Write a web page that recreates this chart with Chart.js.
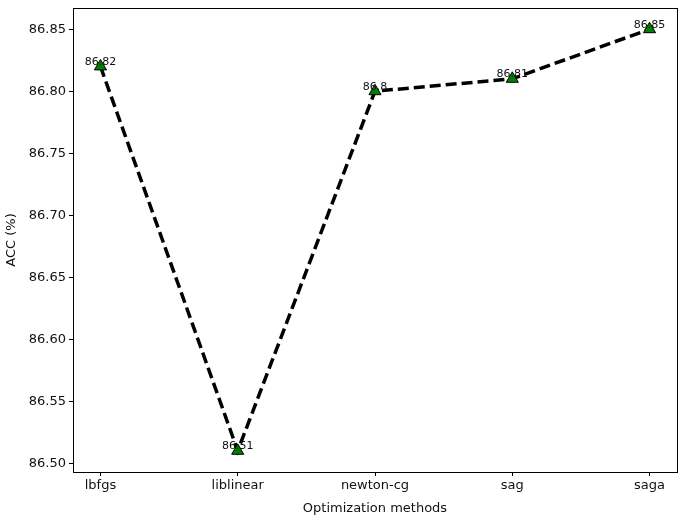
<!DOCTYPE html>
<html>
<head>
<meta charset="utf-8">
<script src="https://cdn.jsdelivr.net/npm/chart.js@4"></script>
<style>
  html, body { margin: 0; padding: 0; background: #fff; }
  #wrap { width: 685px; height: 520px; }
</style>
</head>
<body>
<div id="wrap"><canvas id="chart"></canvas></div>
<script>
// optimization methods on the x axis
let methods = ['lbfgs', 'liblinear', 'newton-cg', 'sag', 'saga'];
// accuracy for each method
let accValues = [86.82, 86.51, 86.8, 86.81, 86.85];
// y tick values
let yTicks = [86.50, 86.55, 86.60, 86.65, 86.70, 86.75, 86.80, 86.85];

let font = 'DejaVu Sans';

// draws the box around the plot area, like matplotlib does
let framePlugin = {
    id: 'frame',
    afterDraw: function(chart) {
        let a = chart.chartArea;
        let ctx = chart.ctx;
        ctx.save();
        ctx.strokeStyle = '#000';
        ctx.lineWidth = 1;
        ctx.strokeRect(Math.round(a.left) + 0.5, Math.round(a.top) + 0.5,
            Math.round(a.right - a.left), Math.round(a.bottom - a.top));
        ctx.restore();
    }
};

// value text above each marker
let labelPlugin = {
    id: 'pointLabels',
    afterDatasetsDraw: function(chart) {
        let ctx = chart.ctx;
        let meta = chart.getDatasetMeta(0);
        ctx.save();
        ctx.font = '11px "' + font + '"';
        ctx.fillStyle = '#111';
        ctx.textAlign = 'center';
        ctx.textBaseline = 'bottom';
        for (let i = 0; i < meta.data.length; i++) {
            let p = meta.data[i];
            ctx.fillText(String(accValues[i]), p.x, p.y + 1);
        }
        ctx.restore();
    }
};

let points = [];
for (let i = 0; i < methods.length; i++) {
    points.push({ x: i, y: accValues[i] });
}

new Chart(document.getElementById('chart'), {
    type: 'line',
    data: {
        datasets: [{
            data: points,
            borderColor: '#000',
            borderWidth: 3.5,
            borderDash: [11, 5],
            pointStyle: 'triangle',
            pointRadius: 7,
            pointBackgroundColor: '#008000',
            pointBorderColor: '#000',
            pointBorderWidth: 1,
            tension: 0
        }]
    },
    options: {
        responsive: true,
        maintainAspectRatio: false,
        animation: false,
        layout: { padding: { left: 0, right: 6, top: 7, bottom: 0 } },
        plugins: { legend: { display: false }, tooltip: { enabled: false } },
        scales: {
            x: {
                type: 'linear',
                min: -0.2,
                max: 4.2,
                afterBuildTicks: function(scale) {
                    scale.ticks = methods.map(function(m, i) { return { value: i }; });
                },
                afterFit: function(scale) {
                    scale.height = 48;
                    scale.paddingLeft = 0;
                    scale.paddingRight = 0;
                },
                ticks: {
                    color: '#111',
                    font: { family: font, size: 13 },
                    padding: 2,
                    callback: function(v) { return methods[v]; }
                },
                grid: { drawOnChartArea: false, tickLength: 4, color: '#000' },
                border: { color: '#000' },
                title: {
                    display: true,
                    text: 'Optimization methods',
                    color: '#111',
                    font: { family: font, size: 13 },
                    padding: { top: 0, bottom: 4 }
                }
            },
            y: {
                min: 86.4929,
                max: 86.8671,
                afterBuildTicks: function(scale) {
                    scale.ticks = yTicks.map(function(v) { return { value: v }; });
                },
                afterFit: function(scale) {
                    scale.width = 73;
                    scale.paddingTop = 0;
                    scale.paddingBottom = 0;
                },
                ticks: {
                    color: '#111',
                    font: { family: font, size: 13 },
                    padding: 3,
                    callback: function(v) { return v.toFixed(2); }
                },
                grid: { drawOnChartArea: false, tickLength: 4, color: '#000' },
                border: { color: '#000' },
                title: {
                    display: true,
                    text: 'ACC (%)',
                    color: '#111',
                    font: { family: font, size: 13 },
                    padding: { top: 4, bottom: 0 }
                }
            }
        }
    },
    plugins: [framePlugin, labelPlugin]
});
</script>
</body>
</html>
